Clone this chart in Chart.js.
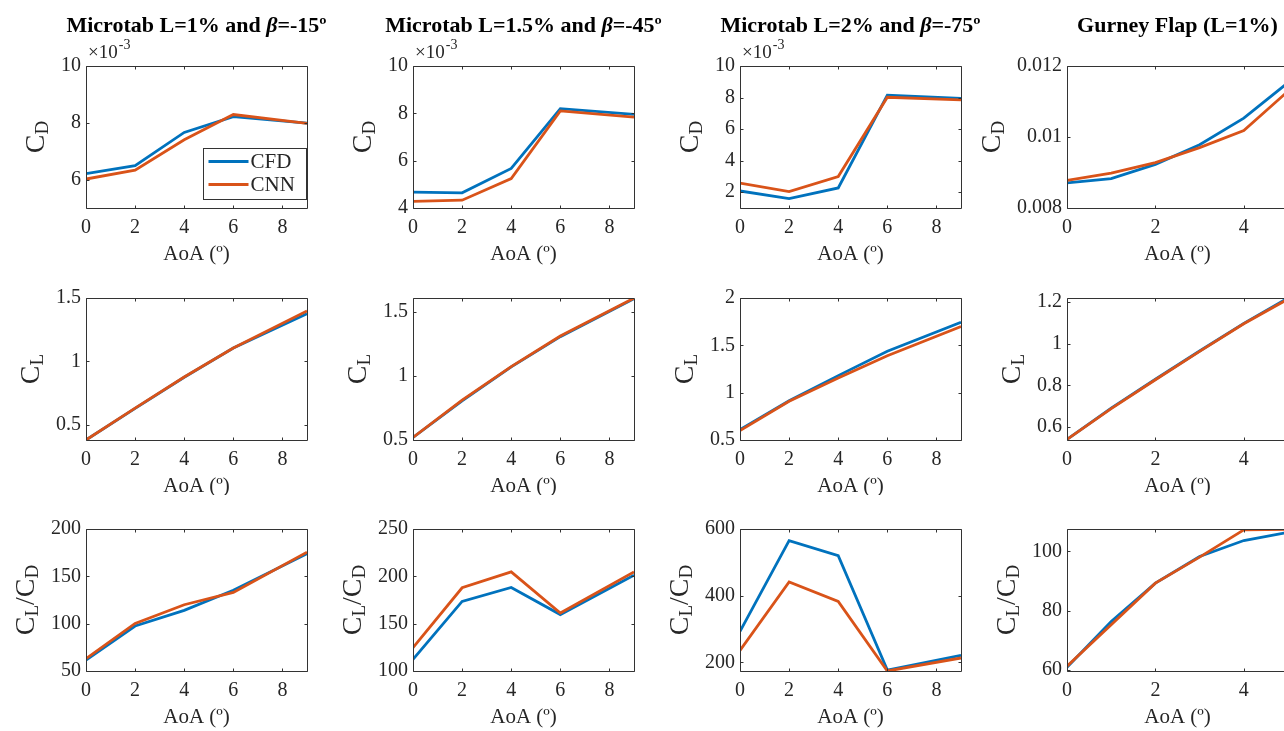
<!DOCTYPE html>
<html><head><meta charset="utf-8">
<script src="https://cdn.jsdelivr.net/npm/chart.js@4.4.1/dist/chart.umd.min.js"></script>
<style>
html,body{margin:0;padding:0;background:#fff;overflow:hidden;width:1284px;height:731px;}
#wrap{position:relative;width:1284px;height:731px;overflow:hidden;background:#fff;}
#wrap canvas{position:absolute;}
</style></head><body><div id="wrap"></div>
<script>
// ---------- DATA ----------
const aoaMicro  = [0, 2, 4, 6, 9];
const aoaGurney = [0, 1, 2, 3, 4, 5];

// Drag coefficient C_D
const cd_mt1_cfd = [0.00621, 0.00649, 0.00766, 0.00822, 0.00799];
const cd_mt1_cnn = [0.00602, 0.00633, 0.00740, 0.00829, 0.00798];
const cd_mt2_cfd = [0.00467, 0.00464, 0.00567, 0.00820, 0.00796];
const cd_mt2_cnn = [0.00428, 0.00433, 0.00524, 0.00810, 0.00784];
const cd_mt3_cfd = [0.00208, 0.00160, 0.00227, 0.00815, 0.00794];
const cd_mt3_cnn = [0.00258, 0.00204, 0.00299, 0.00802, 0.00785];
const cd_gf_cfd  = [0.00871, 0.00883, 0.00923, 0.00978, 0.01053, 0.01153];
const cd_gf_cnn  = [0.00878, 0.00898, 0.00928, 0.00970, 0.01018, 0.01129];

// Lift coefficient C_L
const cl_mt1_cfd = [0.38, 0.630, 0.875, 1.105, 1.376];
const cl_mt1_cnn = [0.38, 0.632, 0.877, 1.106, 1.397];
const cl_mt2_cfd = [0.52, 0.805, 1.070, 1.305, 1.600];
const cl_mt2_cnn = [0.52, 0.810, 1.072, 1.310, 1.605];
const cl_mt3_cfd = [0.61, 0.915, 1.180, 1.437, 1.744];
const cl_mt3_cnn = [0.60, 0.910, 1.155, 1.390, 1.698];
const cl_gf_cfd  = [0.54, 0.690, 0.829, 0.965, 1.098, 1.220];
const cl_gf_cnn  = [0.54, 0.688, 0.827, 0.963, 1.096, 1.215];

// Efficiency C_L/C_D
const ld_mt1_cfd = [61.5, 97.5, 114.0, 135.3, 173.8];
const ld_mt1_cnn = [63.0, 100.3, 120.0, 133.0, 175.5];
const ld_mt2_cfd = [112.3, 173.5, 188.2, 159.6, 201.2];
const ld_mt2_cnn = [124.6, 187.9, 204.7, 161.3, 204.7];
const ld_mt3_cfd = [293, 565, 520, 177, 221];
const ld_mt3_cnn = [236, 441, 383, 174, 213];
const ld_gf_cfd  = [60.9, 76.3, 89.3, 98.3, 103.7, 106.5];
const ld_gf_cnn  = [61.2, 75.2, 89.3, 98.1, 107.3, 107.5];

// Ticks and axis ranges
const xTicksMicro  = [0, 2, 4, 6, 8];
const xTicksGurney = [0, 2, 4];
const yTicksCD = [[0.006,0.008,0.010],[0.004,0.006,0.008,0.010],[0.002,0.004,0.006,0.008,0.010],[0.008,0.010,0.012]];
const yTicksCL = [[0.5,1,1.5],[0.5,1,1.5],[0.5,1,1.5,2],[0.6,0.8,1,1.2]];
const yTicksLD = [[50,100,150,200],[100,150,200,250],[200,400,600],[60,80,100]];
const yRangeCD = [[0.005,0.010],[0.004,0.010],[0.001,0.010],[0.008,0.012]];
const yRangeCL = [[0.38,1.5],[0.5,1.606],[0.5,2],[0.537,1.22]];
const yRangeLD = [[50,200],[100,250],[174,600],[59.6,107.6]];

const seriesNames = ['CFD', 'CNN'];
const panelTitles = [
  [['Microtab L=1% and ','b'],['β','bi'],['=-15º','b']],
  [['Microtab L=1.5% and ','b'],['β','bi'],['=-45º','b']],
  [['Microtab L=2% and ','b'],['β','bi'],['=-75º','b']],
  [['Gurney Flap (L=1%)','b']]
];
const xAxisTitle = 'AoA (º)';

// ---------- LAYOUT / STYLE ----------
const FONT = '"Liberation Serif","DejaVu Serif",serif';
const COL_CFD = '#0072BD', COL_CNN = '#D95319';
const TXT = '#262626';
const colLeft = [86, 413, 740, 1067];
const plotW = 221, plotH = 142;
const rowTop = [66, 298, 529];
const canvasRows = [[0,265],[265,230],[495,236]];
const YW = 100, CW = 361;

const decor = {
  id: 'decor',
  afterDatasetsDraw(chart) {
    const o = chart.canvas._decor;
    const ctx = chart.ctx, a = chart.chartArea;
    const xs = chart.scales.x, ys = chart.scales.y;
    ctx.save();
    ctx.strokeStyle = '#333'; ctx.lineWidth = 1;
    const L = Math.round(a.left)+0.5, T = Math.round(a.top)+0.5;
    const R = Math.round(a.right)+0.5, B = Math.round(a.bottom)+0.5;
    ctx.beginPath();
    ctx.rect(L, T, R-L, B-T);
    o.xTicks.forEach(v => { const p = Math.round(xs.getPixelForValue(v))+0.5;
      ctx.moveTo(p,B); ctx.lineTo(p,B-3); ctx.moveTo(p,T); ctx.lineTo(p,T+3); });
    o.yTicks.forEach(v => { const p = Math.round(ys.getPixelForValue(v))+0.5;
      ctx.moveTo(L,p); ctx.lineTo(L+3,p); ctx.moveTo(R,p); ctx.lineTo(R-3,p); });
    ctx.stroke();

    // x axis title
    ctx.fillStyle = TXT;
    ctx.font = '21px ' + FONT;
    ctx.textAlign = 'center'; ctx.textBaseline = 'middle';
    ctx.fillText(xAxisTitle, (a.left+a.right)/2, a.bottom + 46);

    // y axis title
    ctx.font = '20px ' + FONT;
    let maxW = 0;
    o.yTicks.forEach(v => { const w = ctx.measureText(o.fmt(v)).width; if (w>maxW) maxW=w; });
    const xb = a.left - 5 - maxW - 17;
    const yc = (a.top + a.bottom)/2;
    const parts = o.ylabel === 'CD' ? [['C',28,0],['D',19,4]] :
                  o.ylabel === 'CL' ? [['C',28,0],['L',19,4]] :
                  [['C',28,0],['L',19,4],['/',28,0],['C',28,0],['D',19,4]];
    let tw = 0;
    parts.forEach(p => { ctx.font = p[1]+'px '+FONT; tw += ctx.measureText(p[0]).width; });
    ctx.translate(xb, yc); ctx.rotate(-Math.PI/2);
    ctx.textAlign = 'left'; ctx.textBaseline = 'alphabetic';
    let cx = -tw/2;
    parts.forEach(p => { ctx.font = p[1]+'px '+FONT; ctx.fillText(p[0], cx, p[2]); cx += ctx.measureText(p[0]).width; });
    ctx.setTransform(1,0,0,1,0,0);

    // title
    if (o.title) {
      let w = 0;
      const fontOf = s => (s==='bi' ? 'italic bold ' : 'bold ') + '22px ' + FONT;
      o.title.forEach(s => { ctx.font = fontOf(s[1]); w += ctx.measureText(s[0]).width; });
      let x = (a.left + a.right)/2 - w/2;
      ctx.fillStyle = '#000'; ctx.textAlign='left'; ctx.textBaseline='middle';
      o.title.forEach(s => { ctx.font = fontOf(s[1]); ctx.fillText(s[0], x, 26); x += ctx.measureText(s[0]).width; });
    }
    // exponent
    if (o.exp) {
      ctx.fillStyle = TXT; ctx.textAlign='left'; ctx.textBaseline='alphabetic';
      ctx.font = '19px ' + FONT;
      const x0 = a.left + 2;
      ctx.fillText('×10', x0, a.top - 8);
      const w = ctx.measureText('×10').width;
      ctx.font = '14px ' + FONT;
      ctx.fillText('-3', x0 + w + 1, a.top - 17);
    }
    // legend
    if (o.legend) {
      const bw = 103, bh = 51;
      const bx = Math.round(a.right) - 1 - bw + 0.5, by = Math.round(a.bottom) - 9 - bh + 0.5;
      ctx.fillStyle = '#fff'; ctx.fillRect(bx, by, bw, bh);
      ctx.strokeStyle = '#333'; ctx.lineWidth = 1; ctx.strokeRect(bx, by, bw, bh);
      const ents = [[seriesNames[0], COL_CFD, 13],[seriesNames[1], COL_CNN, 36]];
      ctx.font = '21px ' + FONT; ctx.textBaseline='middle'; ctx.textAlign='left';
      ents.forEach(e => {
        ctx.strokeStyle = e[1]; ctx.lineWidth = 2.8;
        ctx.beginPath(); ctx.moveTo(bx+5, by+e[2]); ctx.lineTo(bx+45, by+e[2]); ctx.stroke();
        ctx.fillStyle = TXT; ctx.fillText(e[0], bx+47, by+e[2]+1);
      });
    }
    ctx.restore();
  }
};

const wrap = document.getElementById('wrap');

function makePanel(r, c, xv, cfd, cnn, xTicks, yTicks, yRange, ylabel, fmt) {
  const cv = document.createElement('canvas');
  const cTop = canvasRows[r][0], cH = canvasRows[r][1];
  const cLeft = colLeft[c] - YW;
  cv.width = CW; cv.height = cH;
  cv.style.left = cLeft + 'px'; cv.style.top = cTop + 'px';
  cv.style.width = CW + 'px'; cv.style.height = cH + 'px';
  cv._decor = { xTicks, yTicks, fmt, ylabel, title: r===0 ? panelTitles[c] : null, exp: r===0 && c<3, legend: r===0 && c===0 };
  wrap.appendChild(cv);
  const topOff = rowTop[r] - cTop;
  const xH = cH - topOff - plotH;
  const xmax = xv[xv.length-1];
  new Chart(cv.getContext('2d'), {
    type: 'line',
    data: { datasets: [
      { label: seriesNames[0], data: xv.map((x,i)=>({x, y: cfd[i]})), borderColor: COL_CFD, borderWidth: 2.8, pointRadius: 0, tension: 0, fill: false, order: 2 },
      { label: seriesNames[1], data: xv.map((x,i)=>({x, y: cnn[i]})), borderColor: COL_CNN, borderWidth: 2.8, pointRadius: 0, tension: 0, fill: false, order: 1 }
    ]},
    options: {
      responsive: false, animation: false, events: [],
      layout: { padding: { left: 0, top: topOff, right: CW - YW - plotW, bottom: 0 } },
      plugins: { legend: { display: false }, tooltip: { enabled: false } },
      scales: {
        x: { type: 'linear', min: 0, max: xmax,
          grid: { display: false, drawTicks: false }, border: { display: false },
          afterBuildTicks: s => { s.ticks = xTicks.map(v => ({ value: v })); },
          afterFit: s => { s.height = xH; },
          ticks: { font: { family: FONT, size: 20 }, color: TXT, padding: 8, maxRotation: 0, autoSkip: false, callback: v => String(v) } },
        y: { type: 'linear', min: yRange[0], max: yRange[1],
          grid: { display: false, drawTicks: false }, border: { display: false },
          afterBuildTicks: s => { s.ticks = yTicks.map(v => ({ value: v })); },
          afterFit: s => { s.width = YW; },
          ticks: { font: { family: FONT, size: 20 }, color: TXT, padding: 5, autoSkip: false, callback: v => fmt(v) } }
      }
    },
    plugins: [decor]
  });
}

const fmtMilli = v => String(+(v*1000).toFixed(3));
const fmtPlain = v => String(+v.toFixed(4));

const cdCFD = [cd_mt1_cfd, cd_mt2_cfd, cd_mt3_cfd, cd_gf_cfd];
const cdCNN = [cd_mt1_cnn, cd_mt2_cnn, cd_mt3_cnn, cd_gf_cnn];
const clCFD = [cl_mt1_cfd, cl_mt2_cfd, cl_mt3_cfd, cl_gf_cfd];
const clCNN = [cl_mt1_cnn, cl_mt2_cnn, cl_mt3_cnn, cl_gf_cnn];
const ldCFD = [ld_mt1_cfd, ld_mt2_cfd, ld_mt3_cfd, ld_gf_cfd];
const ldCNN = [ld_mt1_cnn, ld_mt2_cnn, ld_mt3_cnn, ld_gf_cnn];

for (let c = 0; c < 4; c++) {
  const xv = c < 3 ? aoaMicro : aoaGurney;
  const xt = c < 3 ? xTicksMicro : xTicksGurney;
  makePanel(0, c, xv, cdCFD[c], cdCNN[c], xt, yTicksCD[c], yRangeCD[c], 'CD', c < 3 ? fmtMilli : fmtPlain);
  makePanel(1, c, xv, clCFD[c], clCNN[c], xt, yTicksCL[c], yRangeCL[c], 'CL', fmtPlain);
  makePanel(2, c, xv, ldCFD[c], ldCNN[c], xt, yTicksLD[c], yRangeLD[c], 'LD', fmtPlain);
}
</script></body></html>
